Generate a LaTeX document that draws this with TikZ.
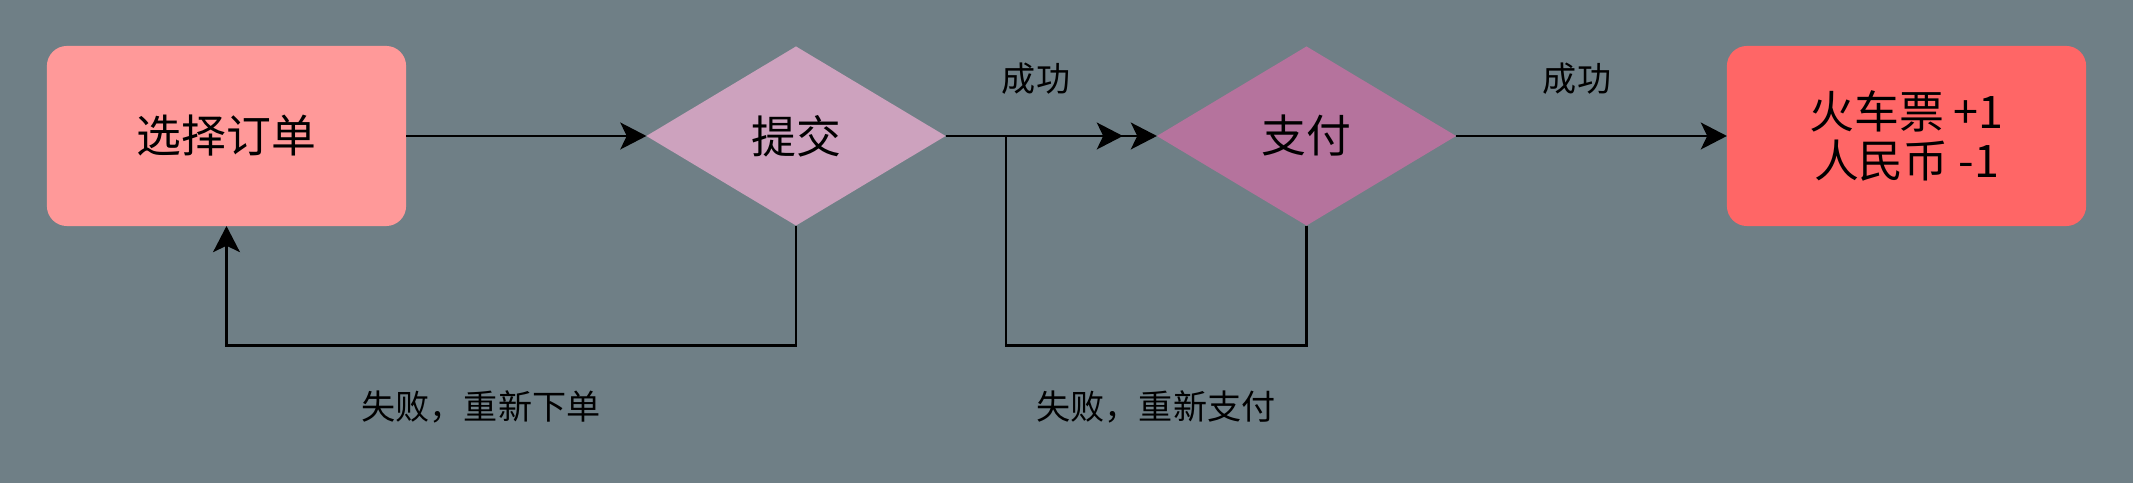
\documentclass[tikz,border=0pt]{standalone}
\usepackage{fontspec}
\setmainfont{Noto Sans CJK SC}
\usetikzlibrary{arrows.meta,shapes.geometric}
\definecolor{bgslate}{HTML}{6F7F86}
\definecolor{orderred}{HTML}{FF9999}
\definecolor{submitpink}{HTML}{CDA2BE}
\definecolor{paypurple}{HTML}{B5739D}
\definecolor{ticketred}{HTML}{FF6666}

\begin{document}
\begin{tikzpicture}[x=0.01cm,y=-0.01cm,
  every node/.style={inner sep=0pt,outer sep=0pt},
  box/.style={rounded corners=0.2cm,minimum width=3.59cm,minimum height=1.8cm,align=center,
    font=\fontsize{12.75pt}{14.2pt}\selectfont},
  choice/.style={diamond,aspect=1.67,minimum width=2.99cm,minimum height=1.79cm,
    font=\fontsize{12.75pt}{14.2pt}\selectfont},
  note/.style={font=\fontsize{9.7pt}{11pt}\selectfont},
  link/.style={line width=0.8pt},
  flow/.style={link,-{Stealth[length=7.4pt,width=7.6pt,inset=1.8pt]}}]
  \fill[bgslate] (0,0) rectangle (2133,483);
  \useasboundingbox (0,0) rectangle (2133,483);
  \node[box,fill=orderred] (order) at (226.5,136) {选择订单};
  \node[choice,fill=submitpink] (submit) at (796,136) {提交};
  \node[choice,fill=paypurple] (pay) at (1306.5,136) {支付};
  \node[box,fill=ticketred] (ticket) at (1906.5,136) {火车票 +1\\人民币 -1};
  \coordinate (payjoin) at (1006,136);

  \draw[flow] (order.east) -- (submit.west);
  \draw[flow,shorten >=0.34cm] (submit.east) -- (pay.west);
  \draw[flow] (pay.east) -- (ticket.west);
  \draw[flow] (submit.south) -- ++(0,120) -| (order.south);
  \draw[flow] (pay.south) -- ++(0,120) -| (payjoin) -- (pay.west);

  \node[note] (ok1) at (1036,79) {成功};
  \node[note] (ok2) at (1577,79) {成功};
  \node[note] (retry1) at (481,407) {失败，重新下单};
  \node[note] (retry2) at (1156,407) {失败，重新支付};
\end{tikzpicture}
\end{document}
